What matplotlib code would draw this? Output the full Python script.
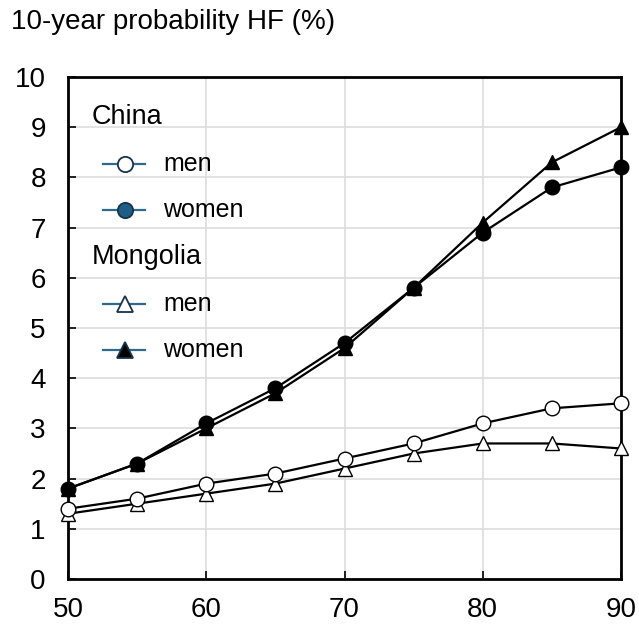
import matplotlib
matplotlib.use("Agg")
import matplotlib.pyplot as plt
from matplotlib.lines import Line2D

plt.rcParams['font.family'] = ['Liberation Sans', 'DejaVu Sans']

age = [50, 55, 60, 65, 70, 75, 80, 85, 90]
china_men = [1.4, 1.6, 1.9, 2.1, 2.4, 2.7, 3.1, 3.4, 3.5]
china_women = [1.8, 2.3, 3.1, 3.8, 4.7, 5.8, 6.9, 7.8, 8.2]
mongolia_men = [1.3, 1.5, 1.7, 1.9, 2.2, 2.5, 2.7, 2.7, 2.6]
mongolia_women = [1.8, 2.3, 3.0, 3.7, 4.6, 5.8, 7.1, 8.3, 9.0]
x_ticks = [50, 60, 70, 80, 90]
y_ticks = list(range(0, 11))

fig = plt.figure(figsize=(6.39, 6.27), dpi=100)
ax = fig.add_axes([68/639, 1 - 579/627, (621-68)/639, (579-77)/627])

ms = 10.5
lw = 1.6
ax.plot(age, mongolia_men, color='black', lw=lw, marker='^', ms=ms, mfc='white', mec='black', mew=1.0, zorder=3, clip_on=False)
ax.plot(age, china_men, color='black', lw=lw, marker='o', ms=ms, mfc='white', mec='black', mew=1.0, zorder=4, clip_on=False)
ax.plot(age, mongolia_women, color='black', lw=lw, marker='^', ms=ms, mfc='black', mec='black', mew=1.0, zorder=3, clip_on=False)
ax.plot(age, china_women, color='black', lw=lw, marker='o', ms=ms, mfc='black', mec='black', mew=1.0, zorder=4, clip_on=False)

ax.set_xlim(50, 90)
ax.set_ylim(0, 10)
ax.set_xticks(x_ticks)
ax.set_yticks(y_ticks)
ax.tick_params(direction='in', length=6, width=1.2, labelsize=20)
ax.tick_params(axis='y', pad=16)
ax.tick_params(axis='x', pad=13)
ax.grid(True, color='#dddddd', lw=1.2)
ax.set_axisbelow(True)
for s in ax.spines.values():
    s.set_linewidth(2.0)
    s.set_color('black')

# legend (manual)
lcol = '#2e6b8a'
edge = '#17344a'
def to_ax(px, py):
    return ((px - 68) / (621 - 68), (579 - py) / (579 - 77))

entries = [
    ('header', 'China', 117, None),
    ('item', 'men', 164, dict(marker='o', mfc='white', mec=edge)),
    ('item', 'women', 210, dict(marker='o', mfc='#1f5f85', mec=edge)),
    ('header', 'Mongolia', 257, None),
    ('item', 'men', 304, dict(marker='^', mfc='white', mec=edge)),
    ('item', 'women', 350, dict(marker='^', mfc='black', mec=edge)),
]
for kind, label, py, style in entries:
    if kind == 'header':
        x0, y0 = to_ax(92, py)
        ax.text(x0, y0, label, transform=ax.transAxes, fontsize=19.5, va='center', ha='left')
    else:
        xa, ya = to_ax(103, py)
        xb, _ = to_ax(145, py)
        xm, _ = to_ax(125, py)
        ax.add_line(Line2D([xa, xb], [ya, ya], transform=ax.transAxes, color=lcol, lw=1.6, zorder=5))
        ax.add_line(Line2D([xm], [ya], transform=ax.transAxes, color=lcol, lw=0, ms=11, mew=1.3, zorder=6, **style))
        xt, _ = to_ax(163, py)
        ax.text(xt, ya, label, transform=ax.transAxes, fontsize=18, va='center', ha='left')

fig.text(11/639, 1 - 22/627, '10-year probability HF (%)', fontsize=20, va='center', ha='left')

fig.savefig('out.png', dpi=100)
